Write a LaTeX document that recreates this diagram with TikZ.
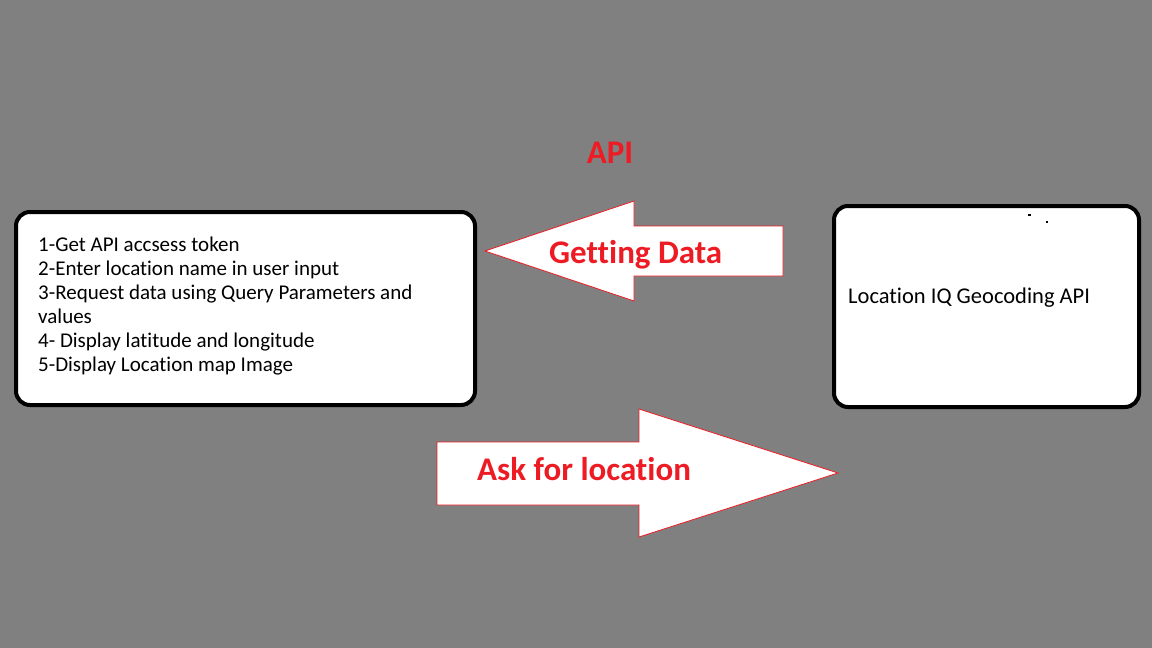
\documentclass[tikz,border=0pt]{standalone}
\usepackage{fontspec}
\setmainfont{Carlito}[Ligatures = NoCommon]
\usetikzlibrary{positioning}

\definecolor{paintred}{HTML}{ED1C24}
\definecolor{paintgray}{HTML}{808080}

\begin{document}
\begin{tikzpicture}[%
        x = 1pt,
        y = -1pt,
        line cap = round,
        roundbox/.style = {draw = black, line width = 4pt, fill = white,
            rounded corners = 14pt, inner sep = 0pt},
        bigarrow/.style = {draw = paintred, line width = 0.8pt, fill = white,
            line join = miter},
        arrowlabel/.style = {text = paintred, font = \bfseries\fontsize{33}{38}\selectfont,
            anchor = base west, inner sep = 0pt},
        steptext/.style = {font = \fontsize{21}{24}\selectfont, align = left,
            anchor = base west, inner sep = 0pt}
    ]
        % Gray page behind everything.
        \fill[paintgray] (0, 0) rectangle (1152, 648);
        \useasboundingbox (0, 0) rectangle (1152, 648);

        % Title above the arrows.
        \node[arrowlabel, anchor = base] (Title) at (610, 163) {API};

        % Box for the client steps.
        \node[roundbox, minimum width = 459pt, minimum height = 193pt]
            (Client) at (245.5, 308.5) {};
        % Base of the last line sits at 370.
        \node[steptext] (Steps) at (38, 371) {%
            1-Get API accsess token\\
            2-Enter location name in user input\\
            3-Request data using Query Parameters and\\
            values\\
            4- Display latitude and longitude\\
            5-Display Location map Image};

        % Box for the geocoding service.
        \node[roundbox, minimum width = 305pt, minimum height = 201pt]
            (Service) at (986.5, 306.5) {};
        \node[font = \fontsize{22.5}{26}\selectfont, anchor = base west, inner sep = 0pt]
            (ServiceName) at (848, 303) {Location IQ Geocoding API};

        % Stray marks in the service box.
        \fill[black] (1028, 214) rectangle (1031, 216);
        \fill[black] (1046, 221) rectangle (1048, 223);

        % Arrow pointing back to the client.
        \coordinate (Get_Tip) at (485, 251);
        \draw[bigarrow] (Get_Tip) -- (634, 201) -- (634, 226) -- (783, 226)
            -- (783, 276) -- (634, 276) -- (634, 301) -- cycle;
        \node[arrowlabel] (Getting) at (549, 263) {Getting Data};

        % Arrow pointing to the service.
        \coordinate (Ask_Tip) at (838, 473);
        \draw[bigarrow] (Ask_Tip) -- (639, 537) -- (639, 505) -- (437, 505)
            -- (437, 442) -- (639, 442) -- (639, 409) -- cycle;
        \node[arrowlabel] (Ask) at (477, 480) {Ask for location};
    \end{tikzpicture}
\end{document}
